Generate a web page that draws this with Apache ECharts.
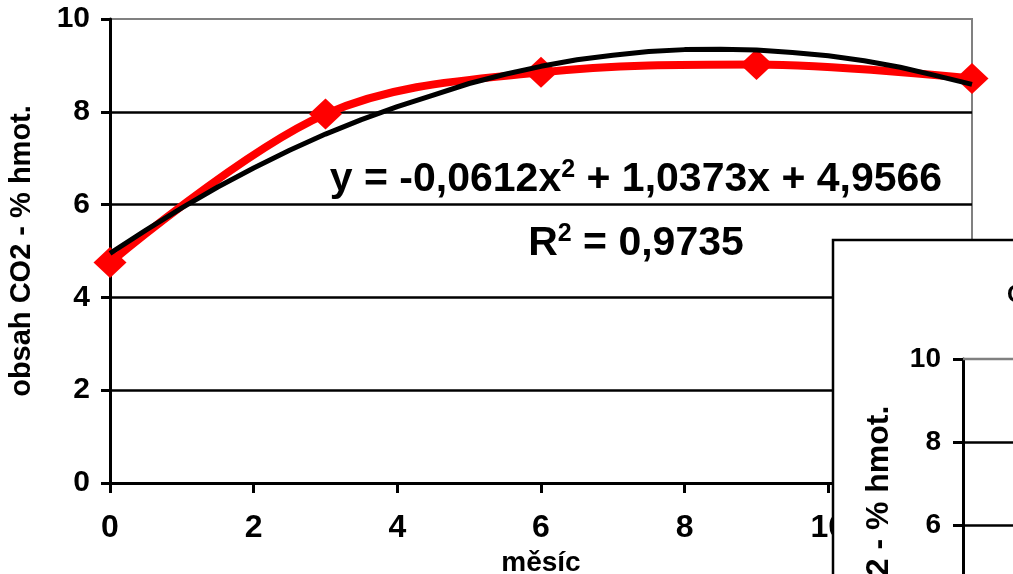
<!DOCTYPE html>
<html><head><meta charset="utf-8">
<script src="https://cdn.jsdelivr.net/npm/echarts@6/dist/echarts.min.js"></script>
<style>html,body{margin:0;padding:0;background:#fff}#c{width:1013px;height:574px}</style>
</head><body><div id="c"></div>
<script>
// measured points (month, CO2 %)
const months = [0, 3, 6, 9, 12];
const co2 = [4.75, 7.95, 8.85, 9.02, 8.72];
// trend line
const trendX = [0,0.5,1,1.5,2,2.5,3,3.5,4,4.5,5,5.5,6,6.5,7,7.5,8,8.5,9,9.5,10,10.5,11,11.5,12];
const trendY = [4.95,5.45,5.93,6.38,6.79,7.17,7.52,7.83,8.11,8.36,8.61,8.81,8.98,9.12,9.22,9.30,9.34,9.35,9.33,9.28,9.21,9.10,8.96,8.78,8.59];
const xTicks = ['0','2','4','6','8','10','12'];
const yTicks = ['0','2','4','6','8','10'];
const eqText = ['y = -0,0612x', '2', ' + 1,0373x + 4,9566'];
const r2Text = ['R', '2', ' = 0,9735'];
const yName = 'obsah CO2 - % hmot.';
const xName = 'měsíc';

const F = '"Liberation Sans", Arial, sans-serif';
const chart = echarts.init(document.getElementById('c'));
const pts = months.map((m, i) => [m, co2[i]]);
const tr = trendX.map((x, i) => [x, trendY[i]]);
const rich = {
  a: {fontSize: 41, fontWeight: 'bold', fontFamily: F, fill: '#000', lineHeight: 45},
  s: {fontSize: 25, fontWeight: 'bold', fontFamily: F, fill: '#000', lineHeight: 45, padding: [0, 0, 19, 0]}
};

chart.setOption({
  animation: false,
  grid: [
    {left: 110, top: 19, right: 41, bottom: 91, show: true, borderColor: '#808080', borderWidth: 2,
     backgroundColor: 'transparent', outerBoundsMode: 'none'},
    {left: 963, top: 359, right: -200, bottom: -200, show: false, outerBoundsMode: 'none'}
  ],
  xAxis: [
    {type: 'value', gridIndex: 0, min: 0, max: 12, interval: 2,
     axisLine: {lineStyle: {color: '#000', width: 3}},
     axisTick: {show: true, inside: false, length: 10, lineStyle: {color: '#000', width: 3}},
     splitLine: {show: false},
     axisLabel: {color: '#000', fontSize: 32, fontWeight: 'bold', fontFamily: F, margin: 29,
       formatter: v => xTicks[Math.round(v / 2)]},
     name: xName, nameLocation: 'middle', nameGap: 62,
     nameTextStyle: {color: '#000', fontSize: 28, fontWeight: 'bold', fontFamily: F}},
    {type: 'value', gridIndex: 1, min: 0, max: 12, show: false}
  ],
  yAxis: [
    {type: 'value', gridIndex: 0, min: 0, max: 10, interval: 2,
     axisLine: {show: true, lineStyle: {color: '#000', width: 3}},
     axisTick: {show: true, length: 9, lineStyle: {color: '#000', width: 3}},
     splitLine: {show: true, showMaxLine: false, lineStyle: {color: '#000', width: 2.5}},
     axisLabel: {color: '#000', fontSize: 30, fontWeight: 'bold', fontFamily: F, margin: 20,
       formatter: v => yTicks[Math.round(v / 2)]},
     name: yName, nameLocation: 'middle', nameGap: 74,
     nameTextStyle: {color: '#000', fontSize: 29, fontWeight: 'bold', fontFamily: F}},
    {type: 'value', gridIndex: 1, min: 0, max: 10, interval: 2, z: 30,
     axisLine: {show: true, lineStyle: {color: '#000', width: 3}},
     axisTick: {show: true, length: 10, lineStyle: {color: '#000', width: 3}},
     splitLine: {show: true, showMaxLine: false, lineStyle: {color: '#000', width: 2.5}},
     axisLabel: {color: '#000', fontSize: 28, fontWeight: 'bold', fontFamily: F, margin: 22,
       hideOverlap: false, formatter: v => yTicks[Math.round(v / 2)]},
     name: yName, nameLocation: 'middle', nameGap: 68,
     nameTextStyle: {color: '#000', fontSize: 32, fontWeight: 'bold', fontFamily: F}}
  ],
  series: [
    {type: 'line', xAxisIndex: 0, yAxisIndex: 0, data: pts, smooth: 0.35,
     lineStyle: {color: '#ff0000', width: 8}, itemStyle: {color: '#ff0000'},
     symbol: 'diamond', symbolSize: [33, 31], z: 3},
    {type: 'line', xAxisIndex: 0, yAxisIndex: 0, data: tr, showSymbol: false,
     lineStyle: {color: '#000', width: 5}, z: 4}
  ],
  graphic: {elements: [
    {type: 'text', x: 636, y: 180, z: 5,
     style: {text: '{a|' + eqText[0] + '}{s|' + eqText[1] + '}{a|' + eqText[2] + '}',
       align: 'center', verticalAlign: 'middle', fill: '#000', rich: rich}},
    {type: 'text', x: 636, y: 244, z: 5,
     style: {text: '{a|' + r2Text[0] + '}{s|' + r2Text[1] + '}{a|' + r2Text[2] + '}',
       align: 'center', verticalAlign: 'middle', fill: '#000', rich: rich}},
    {type: 'rect', shape: {x: 833, y: 240, width: 300, height: 400}, z: 20,
     style: {fill: '#fff', stroke: '#000', lineWidth: 2.5}},
    {type: 'line', shape: {x1: 963, y1: 359, x2: 1013, y2: 359}, z: 35,
     style: {stroke: '#808080', lineWidth: 2.5}},
    {type: 'text', x: 1007, y: 295, z: 35,
     style: {text: 'C', fontSize: 24, fontWeight: 'bold', fontFamily: F, fill: '#000', verticalAlign: 'middle'}}
  ]}
});
</script></body></html>
